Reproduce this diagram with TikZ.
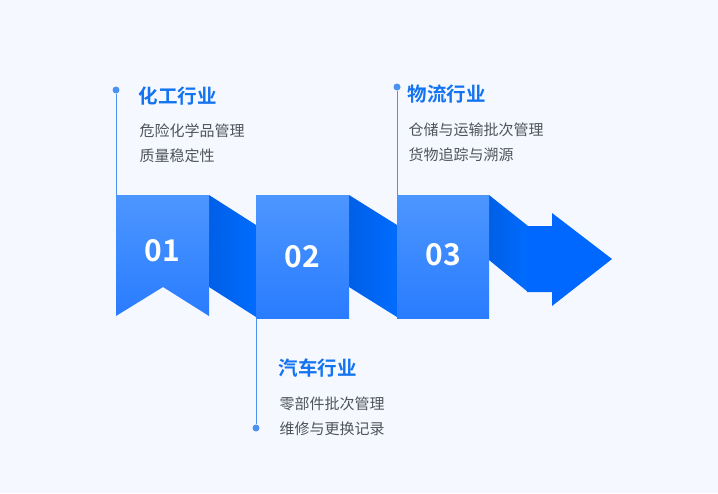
\documentclass[tikz,border=0pt]{standalone}
\usepackage{fontspec}
\newfontfamily\cjk{Noto Sans CJK SC}[BoldFont={Noto Sans CJK SC Bold}]
\usepackage{xcolor}
\usetikzlibrary{positioning}
\definecolor{bgblue}{HTML}{F5F9FF}
\definecolor{boxtop}{HTML}{4C96FF}
\definecolor{boxbot}{HTML}{2A7CFF}
\definecolor{folddark}{HTML}{005FE6}
\definecolor{foldlight}{HTML}{006CFF}
\definecolor{arrowblue}{HTML}{0068FF}
\definecolor{headblue}{HTML}{1473F0}
\definecolor{descgray}{HTML}{4F545C}
\definecolor{lineblue}{HTML}{4D92F0}

\begin{document}
\begin{tikzpicture}[x=1pt, y=-1pt,
  panel/.style={top color=boxtop, bottom color=boxbot, draw=none},
  fold/.style={left color=folddark, right color=foldlight, draw=none},
  num/.style={font=\cjk\bfseries\fontsize{30}{30}\selectfont, text=white},
  head/.style={anchor=west, font=\cjk\bfseries\fontsize{19.5}{19.5}\selectfont, text=headblue},
  desc/.style={anchor=west, align=left, font=\cjk\fontsize{15}{25}\selectfont, text=descgray},
  conn/.style={draw=lineblue, line width=1pt},
  pin/.style={circle, fill=lineblue, inner sep=0pt, minimum size=7pt},
]

% Background
\fill[bgblue] (0,0) rectangle (718,493);

% Folds and arrow
\shade[fold] (209,195) -- (256,225) -- (256,317) -- (209,287) -- cycle;
\shade[fold] (349,195) -- (397,225) -- (397,317) -- (349,287) -- cycle;
\shade[fold] (489,195) -- (528,226) -- (528,292) -- (489,260) -- cycle;
\fill[arrowblue] (527,226) -- (552,226) -- (552,213) -- (612,259)
  -- (552,306) -- (552,292) -- (527,292) -- cycle;

% Panels
\shade[panel] (116,195) -- (209,195) -- (209,316) -- (163,287) -- (116,316) -- cycle;
\shade[panel] (256,195) rectangle (349,318);
\shade[panel] (397,195) rectangle (489,318);

% Numbers
\node[num] (n1) at (162,251) {01};
\node[num] (n2) at (302,257) {02};
\node[num] (n3) at (443,255) {03};

% Anchors on the panels
\coordinate (top1) at (116,195);
\coordinate (bot2) at (256,318);
\coordinate (top3) at (397,195);

% Pins
\node[pin] (p1) at (116,90) {};
\node[pin] (p2) at (256,428) {};
\node[pin] (p3) at (397,87) {};

% Connectors
\draw[conn] (p1) -- (top1);
\draw[conn] (bot2) -- (p2);
\draw[conn] (p3) -- (top3);

% Labels
\node[head] (h1) at (135,96) {化工行业};
\node[desc] (d1) at (136,143.5) {危险化学品管理\\质量稳定性};

\node[head] (h3) at (404,94) {物流行业};
\node[desc] (d3) at (405,142.5) {仓储与运输批次管理\\货物追踪与溯源};

\node[head] (h2) at (275,368) {汽车行业};
\node[desc] (d2) at (276,416) {零部件批次管理\\维修与更换记录};

\end{tikzpicture}
\end{document}
